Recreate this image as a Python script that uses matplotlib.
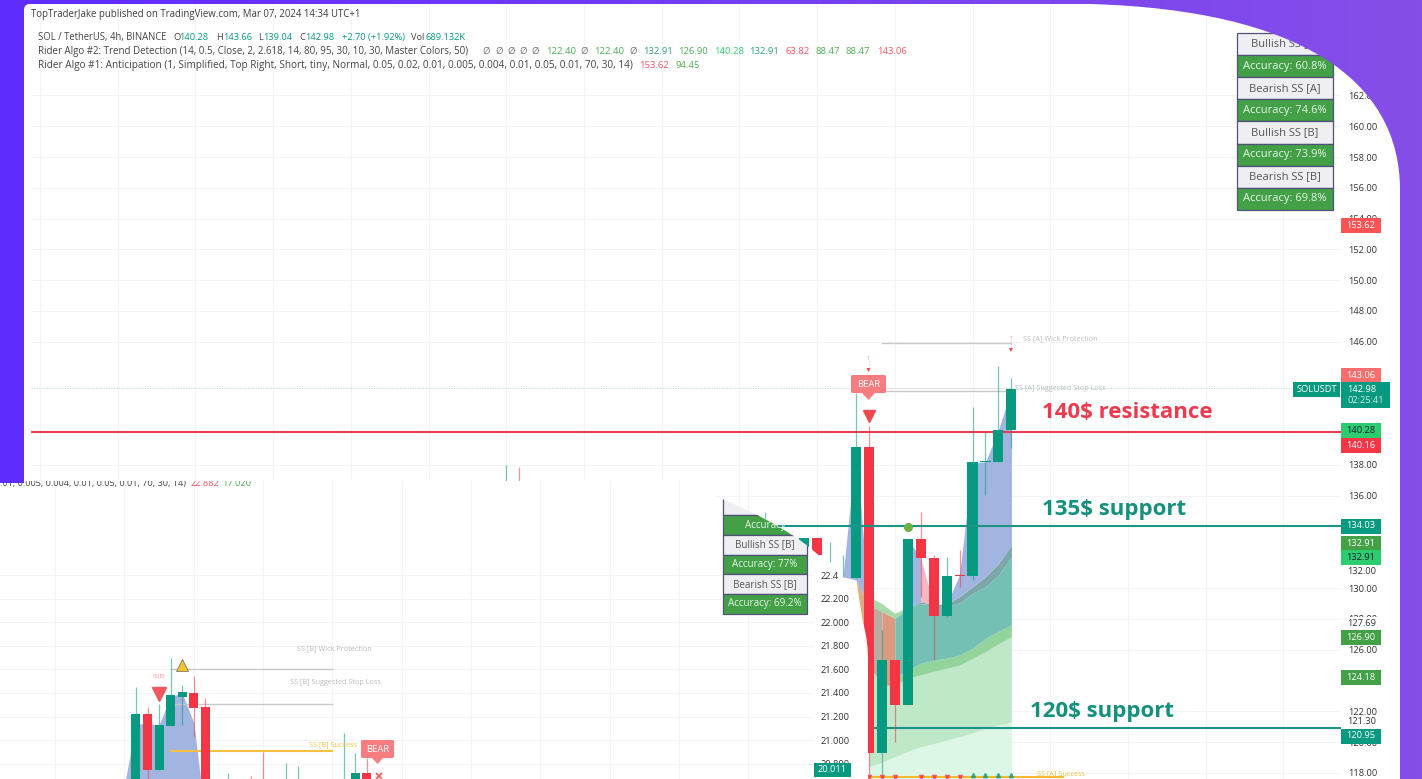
import numpy as np
import matplotlib
matplotlib.use("Agg")
import matplotlib.pyplot as plt
from matplotlib.path import Path
from matplotlib.patches import PathPatch, Rectangle, Polygon, FancyBboxPatch
from matplotlib.transforms import Bbox, TransformedBbox

plt.rcParams['font.family'] = ['Open Sans', 'DejaVu Sans']
W, H = 1422, 779
GREEN, RED = '#089981', '#f23645'
TAG_GREEN, TAG_LIME = '#43a047', '#2ecc71'

# ---------- main chart data (SOL / USDT, 4h) ----------
main_idx = [-27, -26, -7, -4, -3, -2, -1, 0, 1, 2, 3, 4, 5, 6, 7, 8, 9, 10, 11, 12]
main_o = [135.0, 136.7, 132.0, 131.9, 133.28, 132.5, 130.75, 130.68, 139.19, 119.28, 125.34, 122.42, 133.2, 131.94, 128.21, 130.86, 130.81, 138.17, 138.21, 140.27]
main_c = [136.0, 135.5, 133.0, 133.28, 132.16, 132.5, 130.75, 139.15, 119.28, 125.34, 122.42, 133.2, 131.94, 128.21, 130.81, 130.80, 138.17, 138.26, 140.27, 142.94]
main_h = [138.0, 137.9, 134.95, 133.28, 133.28, 133.0, 132.16, 142.66, 140.5, 127.3, 125.34, 133.2, 134.97, 132.16, 132.05, 132.48, 141.79, 140.16, 144.43, 143.66]
main_l = [135.0, 135.5, 132.0, 131.9, 132.16, 131.7, 130.73, 130.68, 117.6, 117.6, 120.03, 122.42, 129.45, 125.34, 128.15, 130.10, 130.53, 136.05, 138.17, 139.08]

resistance, support_135, support_120, last_price = 140.16, 134.03, 120.95, 142.98
wick_level, stop_level_a, stop_level_b, success_level = 145.92, 142.8, 143.0, 117.74

# trend ribbon, by bar
blue1_x, blue1_top, blue1_bot = [-1, 0, 1], [130.75, 139.15, 128.9], [130.75, 130.53, 128.9]
blue2_x, blue2_top, blue2_bot = [4, 5], [133.2, 131.94], [128.7, 129.12]
blue3_x = [7, 8, 9, 10, 11, 12]
blue3_top = [128.97, 130.86, 138.17, 138.2, 140.27, 142.9]
blue3_bot = [128.97, 129.45, 130.1, 130.75, 131.6, 132.8]
pink_x, pink_top, pink_bot = [5, 6, 7], [131.94, 128.9, 128.97], [129.12, 128.9, 128.97]
orange_x, orange_top, orange_bot = [2, 3], [128.48, 128.04], [123.7, 123.7]
tan_x, tan_top, tan_bot = [0, 1], [130.53, 128.9], [130.53, 125.0]
grey_x, grey_top, grey_bot = [1, 2], [128.9, 128.48], [125.0, 123.7]
lime_x, lime_top, lime_bot = [1, 2, 3, 4], [129.45, 129.0, 128.37, 128.8], [128.9, 128.48, 128.04, 128.6]
slate_x = [3, 4, 5, 6, 7, 8, 9, 10, 11, 12]
slate_top = [128.04, 128.7, 129.12, 128.95, 128.97, 129.45, 130.1, 130.75, 131.6, 132.8]
teal_top = [128.04, 128.7, 129.0, 128.9, 128.85, 129.05, 129.66, 130.1, 130.85, 132.05]
teal_bot = [124.15, 124.7, 125.12, 125.34, 125.45, 125.66, 126.1, 126.74, 127.2, 127.61]
green_bot = [123.7, 124.15, 124.37, 124.6, 124.8, 125.0, 125.45, 125.88, 126.4, 126.85]
light_x = [1, 2, 3, 4, 5, 6, 7, 8, 9, 10, 11, 12]
light_top = [125.0, 123.7, 123.7, 124.15, 124.37, 124.6, 124.8, 125.0, 125.45, 125.88, 126.4, 126.85]
light_bot = [118.4, 118.7, 119.05, 119.4, 119.7, 119.9, 120.14, 120.36, 120.6, 120.9, 121.1, 121.3]

main_ticks = [162, 160, 158, 156, 154, 152, 150, 148, 146, 138, 136, 130, 128, 126, 122, 120, 118]

# ---------- inset chart data ----------
inset_idx = [0, 1, 2, 3, 4, 5, 6, 8, 10, 11, 13, 14, 18, 19, 20]
inset_o = [20.5, 21.22, 20.75, 21.12, 21.37, 21.40, 21.28, 20.5, 20.6, 20.6, 20.5, 20.5, 20.5, 20.5, 20.72]
inset_c = [21.22, 20.75, 21.13, 21.38, 21.41, 21.27, 20.5, 20.6, 20.5, 20.5, 20.6, 20.6, 20.6, 20.72, 20.5]
inset_h = [21.45, 21.28, 21.31, 21.70, 21.47, 21.54, 21.36, 20.72, 20.70, 20.90, 20.81, 20.78, 21.06, 20.89, 20.85]
inset_l = [20.5, 20.5, 20.75, 21.12, 21.13, 21.03, 20.5, 20.5, 20.5, 20.5, 20.5, 20.5, 20.5, 20.5, 20.5]
inset_area_x = [-0.9, 0, 1, 2, 3, 4, 5, 5.6]
inset_area_top = [20.67, 21.14, 21.14, 21.13, 21.37, 21.40, 21.15, 20.67]
inset_wick, inset_stop, inset_success = 21.60, 21.31, 20.91
inset_ticks = [22.4, 22.2, 22.0, 21.8, 21.6, 21.4, 21.2, 21.0, 20.8]

fig = plt.figure(figsize=(W / 100, H / 100), dpi=100, facecolor='white')


def px_axes(z):
    a = fig.add_axes([0, 0, 1, 1], zorder=z)
    a.set_xlim(0, W); a.set_ylim(H, 0); a.axis('off'); a.patch.set_alpha(0)
    return a


def candles(ax, idx, o, h, l, c, width=0.78):
    for i, op, hi, lo, cl in zip(idx, o, h, l, c):
        col = GREEN if cl >= op else RED
        ax.vlines(i, lo, hi, color=col, lw=0.9, alpha=0.55, zorder=3)
        if cl != op:
            ax.bar(i, abs(cl - op), bottom=min(op, cl), width=width, color=col, zorder=4)


# ---------- main chart ----------
ax = fig.add_axes([31 / W, 0, (1341 - 31) / W, 1], zorder=1)
ax.patch.set_alpha(0)
ax.set_xlim(-63.7, 37.45)
ax.set_ylim(117.61, 168.195)
for s in ax.spines.values():
    s.set_visible(False)
ax.yaxis.tick_right()
ax.set_yticks(main_ticks)
ax.set_yticklabels([f'{t:.2f}' for t in main_ticks], fontsize=6.7, color='#333333')
ax.tick_params(axis='y', length=0, pad=5)
ax.set_xticks(np.arange(-63, 38, 6))
ax.tick_params(axis='x', length=0, labelbottom=False)
ax.grid(True, color='#f4f4f7', lw=0.8, zorder=0)
ax.set_axisbelow(True)

ax.fill_between(light_x, light_bot, 117.61, color='#dcf7e5', lw=0, zorder=1)
ax.fill_between(light_x, light_top, light_bot, color='#bfe8c8', lw=0, zorder=1)
ax.fill_between(slate_x, teal_bot, green_bot, color='#93d39c', lw=0, zorder=1)
ax.fill_between(slate_x, teal_top, teal_bot, color='#74c0b4', lw=0, zorder=1)
ax.fill_between(slate_x, slate_top, teal_top, color='#7ba7a8', lw=0, zorder=1)
ax.fill_between(lime_x, lime_top, lime_bot, color='#a6dcaa', lw=0, zorder=1)
ax.fill_between(orange_x, orange_top, orange_bot, color='#dc9a80', lw=0, zorder=1)
ax.fill_between(tan_x, tan_top, tan_bot, color='#dcae80', lw=0, zorder=1)
ax.fill_between(grey_x, grey_top, grey_bot, color='#b9aaa2', lw=0, zorder=1)
ax.fill_between(blue1_x, blue1_top, blue1_bot, color='#a2b4e0', lw=0, zorder=1)
ax.fill_between(blue2_x, blue2_top, blue2_bot, color='#a2b4e0', lw=0, zorder=1)
ax.fill_between(blue3_x, blue3_top, blue3_bot, color='#a2b4e0', lw=0, zorder=1)
ax.fill_between(pink_x, pink_top, pink_bot, color='#f6b8c0', lw=0, zorder=1)

ax.axhline(last_price, color='#a8ddd2', lw=0.7, ls=':', zorder=2)
ax.axhline(resistance, color='#ec3b4e', lw=1.5, zorder=2)
ax.axhline(support_135, color='#1a9485', lw=1.5, zorder=5)
ax.plot([1, 37.45], [support_120, support_120], color='#1a9485', lw=1.5, zorder=2)
ax.plot([2, 12], [wick_level, wick_level], color='#c8c8c8', lw=1, zorder=2)
ax.plot([2, 12], [stop_level_a, stop_level_a], color='#c8c8c8', lw=1, zorder=2)
ax.plot([0, 12], [stop_level_b, stop_level_b], color='#e2e2e2', lw=0.8, zorder=2)
ax.plot([1, 16], [success_level, success_level], color='#f7b731', lw=1.5, zorder=2)

candles(ax, main_idx, main_o, main_h, main_l, main_c)
ax.plot([4], [133.95], 'o', color='#6cb33f', ms=5.5, zorder=6)
ax.plot([1], [141.15], 'v', color='#f2474f', ms=9, zorder=6)
ax.plot([1, 2, 3, 5, 6, 7, 8], [117.72] * 7, 'v', color='#f2474f', ms=3, zorder=6, alpha=0.8)
ax.plot([9, 10, 11, 12], [117.85] * 4, '^', color=GREEN, ms=3, zorder=6, alpha=0.7)

# ---------- main text layer (hidden by the purple corner where it overlaps) ----------
tx = px_axes(1.5)


def px_box(a, x0, y0, x1, y1):
    return TransformedBbox(Bbox([[x0, y0], [x1, y1]]), a.transData)


def put(a, x, y, s, color='#444444', size=7.05, ha='left', weight='normal', box=None):
    t = a.text(x, y, s, color=color, fontsize=size, ha=ha, va='center', fontweight=weight, zorder=8)
    if box is not None:
        t.set_clip_box(px_box(a, *box)); t.set_clip_on(True)
    return t


put(tx, 31, 14.5, 'TopTraderJake published on TradingView.com, Mar 07, 2024 14:34 UTC+1', '#3c3c3c', 6.9)
put(tx, 38, 37, 'SOL / TetherUS, 4h, BINANCE', '#444444', 6.85)
row1 = [(173, 'O', '#444444'), (179, '140.28', GREEN),
        (216, 'H', '#444444'), (223, '143.66', GREEN), (258, 'L', '#444444'), (263, '139.04', GREEN),
        (299, 'C', '#444444'), (305, '142.98', GREEN), (342, '+2.70 (+1.92%)', GREEN),
        (411, 'Vol', '#444444'), (425, '689.132K', GREEN)]
for x, s, c in row1:
    put(tx, x, 37, s, c, 6.7)
put(tx, 38, 51, 'Rider Algo #2: Trend Detection (14, 0.5, Close, 2, 2.618, 14, 80, 95, 30, 10, 30, Master Colors, 50)')
row2 = [(482, 'Ø', '#777777'), (495, 'Ø', '#777777'), (507, 'Ø', '#777777'), (519, 'Ø', '#777777'), (531, 'Ø', '#777777'),
        (546, '122.40', '#4caf50'), (580, 'Ø', '#777777'), (594, '122.40', '#4caf50'), (629, 'Ø', '#777777'),
        (643, '132.91', '#2e9e7f'), (678, '126.90', '#4caf50'), (714, '140.28', '#2ecc71'), (749, '132.91', '#2e9e7f'),
        (785, '63.82', '#f0565f'), (816, '88.47', '#4caf50'), (846, '88.47', '#4caf50'), (877, '143.06', '#f0565f')]
for x, s, c in row2:
    put(tx, x, 51, s, c, 6.8)
put(tx, 38, 65, 'Rider Algo #1: Anticipation (1, Simplified, Top Right, Short, tiny, Normal, 0.05, 0.02, 0.01, 0.005, 0.004, 0.01, 0.05, 0.01, 70, 30, 14)', size=7.2)
put(tx, 639, 65, '153.62', '#f0565f', 6.8)
put(tx, 675, 65, '94.45', '#4caf50', 6.8)

put(tx, 1042, 412.5, '140$ resistance', '#ec3b4e', 16, weight='bold')
put(tx, 1042, 510, '135$ support', '#14907c', 16, weight='bold')
put(tx, 1030, 712, '120$ support', '#14907c', 16, weight='bold')

put(tx, 1023, 339, 'SS [A] Wick Protection', '#bbbbbb', 5.2)
put(tx, 1015, 388, 'SS [A] Suggested Stop Loss', '#bbbbbb', 5.2)
put(tx, 1037, 774, 'SS [A] Success', '#f0c040', 5.2)

# BEAR flag
tx.add_patch(FancyBboxPatch((851, 375), 35, 18, boxstyle='round,pad=0,rounding_size=1.5', fc='#f77c80', ec='none', zorder=4))
tx.add_patch(Polygon([[862, 393], [875, 393], [868.5, 400]], fc='#f77c80', ec='none', zorder=4))
put(tx, 868.5, 384, 'BEAR', 'white', 6.8, ha='center')
for x0, y0 in [(868.5, 355), (1011, 335)]:
    put(tx, x0, y0 + 3, 'T', '#f2a0a0', 3.8, ha='center')
    tx.vlines(x0, y0 + 6, y0 + 14, color='#f5b5b5', lw=0.7, linestyles=':')
    tx.add_patch(Polygon([[x0 - 2, y0 + 13], [x0 + 2, y0 + 13], [x0, y0 + 17]], fc='#f2474f', ec='none'))

# table, top right
rows_a = ['Bullish SS [A]', 'Accuracy: 60.8%', 'Bearish SS [A]', 'Accuracy: 74.6%',
          'Bullish SS [B]', 'Accuracy: 73.9%', 'Bearish SS [B]', 'Accuracy: 69.8%']


def table(a, rows, x0, x1, y0, h, size, clip=None):
    for k, s in enumerate(rows):
        acc = s.startswith('Accuracy')
        r = Rectangle((x0, y0 + k * h), x1 - x0, h, fc=TAG_GREEN if acc else '#eeeef3', ec='#50507a', lw=0.9, zorder=6)
        a.add_patch(r)
        if clip is not None:
            r.set_clip_path(clip)
        if s:
            put(a, (x0 + x1) / 2, y0 + (k + .5) * h, s, '#e8f5e9' if acc else '#555555', size, ha='center')


table(tx, rows_a, 1237, 1333, 33, 22.1, 8.0)

# ---------- inset white panel ----------
pb = px_axes(2)
panel_path = Path([(0, 481), (685, 481), (700, 490), (790, 525), (868, 570), (868, 660), (868, H), (0, H), (0, 481)],
                  [Path.MOVETO, Path.LINETO, Path.LINETO, Path.CURVE4, Path.CURVE4, Path.CURVE4, Path.LINETO, Path.LINETO, Path.CLOSEPOLY])
panel = PathPatch(panel_path, fc='white', ec='none')
pb.add_patch(panel)

ins = fig.add_axes([0, 0, 814 / W, (H - 481) / H], zorder=3)
ins.patch.set_alpha(0)
ins.set_xlim(-11.77, 58.7)
ins.set_ylim(20.671, 23.197)
for s in ins.spines.values():
    s.set_visible(False)
ins.yaxis.tick_right()
ins.set_yticks(inset_ticks)
ins.set_yticklabels([f'{t:.3f}' for t in inset_ticks], fontsize=6.7, color='#333333')
ins.tick_params(axis='y', length=0, pad=5)
top_label = ins.get_yticklabels()[0]
top_label.set_clip_box(px_box(pb, 0, 481, 838, H))
top_label.set_clip_on(True)
ins.set_xticks(np.arange(-7, 58, 6))
ins.tick_params(axis='x', length=0, labelbottom=False)
ins.grid(True, color='#f4f4f7', lw=0.8)
ins.set_axisbelow(True)
ins.fill_between(inset_area_x, inset_area_top, 20.67, color='#a2b4e0', lw=0, zorder=1)
ins.plot([3, 17], [inset_wick, inset_wick], color='#c8c8c8', lw=1, zorder=2)
ins.plot([3, 17], [inset_stop, inset_stop], color='#c8c8c8', lw=1, zorder=2)
ins.plot([3, 17], [inset_success, inset_success], color='#f7c040', lw=1.5, zorder=2)
candles(ins, inset_idx, inset_o, inset_h, inset_l, inset_c)
ins.plot([2], [21.395], 'v', color='#f2575c', ms=9.5, zorder=6)
ins.plot([4], [21.635], '^', color='#f2c230', mec='#666666', mew=0.5, ms=8, zorder=6)
ins.plot([21], [20.70], 'x', color='#f2575c', ms=4.5, mew=1.2, zorder=6)

pt = px_axes(3.5)
cut = (0, 481, W, H)
put(pt, 0, 483.5, '.01, 0.005, 0.004, 0.01, 0.05, 0.01, 70, 30, 14)', '#444444', 6.55, box=cut)
put(pt, 191, 483.5, '22.882', '#f0565f', 6.7, box=cut)
put(pt, 222, 483.5, '17.020', '#4caf50', 6.7, box=cut)
put(pt, 159, 676, 'SS[B]', '#f2a0a0', 3.8, ha='center')
put(pt, 297, 649, 'SS [B] Wick Protection', '#bbbbbb', 5.2)
put(pt, 290, 683, 'SS [B] Suggested Stop Loss', '#bbbbbb', 5.2)
put(pt, 309, 745, 'SS [B] Success', '#f0c040', 5.2)
pt.add_patch(FancyBboxPatch((361, 740), 33, 18, boxstyle='round,pad=0,rounding_size=1.5', fc='#f77c80', ec='none'))
pt.add_patch(Polygon([[372, 758], [383, 758], [377.5, 764]], fc='#f77c80', ec='none'))
put(pt, 377.5, 749, 'BEAR', 'white', 6.8, ha='center')

rows_b = ['', 'Accuracy', 'Bullish SS [B]', 'Accuracy: 77%', 'Bearish SS [B]', 'Accuracy: 69.2%']
table(pt, rows_b, 723, 807, 495.5, 19.7, 7.1, clip=panel)

# ---------- purple frame ----------
mk = px_axes(4)
frame_path = Path([(0, 0), (W, 0), (W, H), (1400, H), (1400, 190), (1400, 80), (1300, 10), (1090, 4), (30, 4), (24, 4), (24, 10), (24, 483), (0, 483), (0, 0)],
                  [Path.MOVETO, Path.LINETO, Path.LINETO, Path.LINETO, Path.LINETO, Path.CURVE4, Path.CURVE4, Path.CURVE4,
                   Path.LINETO, Path.CURVE3, Path.CURVE3, Path.LINETO, Path.LINETO, Path.CLOSEPOLY])
frame = PathPatch(frame_path, fc='none', ec='none')
mk.add_patch(frame)
c0, c1 = np.array([0x5e, 0x2c, 0xff]) / 255, np.array([0x86, 0x4e, 0xe8]) / 255
ramp = np.linspace(0, 1, 256)[None, :, None]
grad = c0[None, None, :] * (1 - ramp) + c1[None, None, :] * ramp
im = mk.imshow(grad, extent=[0, W, H, 0], aspect='auto', zorder=1)
im.set_clip_path(frame)
mk.set_xlim(0, W); mk.set_ylim(H, 0)

# ---------- price tags ----------
tg = px_axes(5)


def tag(y, s, fc, tc='white', x0=1341, x1=1381, h=15):
    tg.add_patch(Rectangle((x0, y - h / 2), x1 - x0, h, fc=fc, ec='none'))
    put(tg, (x0 + x1) / 2, y, s, tc, 6.7, ha='center')


tag(225.5, '153.62', '#ff5252')
tag(375, '143.06', '#f86e6e')
tg.add_patch(Rectangle((1341, 382), 49, 26, fc=GREEN, ec='none'))
put(tg, 1347, 389, '142.98', 'white', 6.7)
put(tg, 1347, 400.5, '02:25:41', '#c8ece4', 6.7)
tag(389, 'SOLUSDT', GREEN, x0=1293, x1=1340, h=15)
tag(430.5, '140.28', TAG_LIME, '#123')
tag(445, '140.16', RED)
tag(526, '134.03', GREEN)
tag(543.5, '132.91', TAG_GREEN)
tag(557, '132.91', TAG_LIME, '#123')
tag(637, '126.90', TAG_GREEN)
tag(677, '124.18', TAG_GREEN)
tag(736, '120.95', GREEN)
for y, s in [(572, '132.00'), (623, '127.69'), (721.5, '121.30')]:
    tg.add_patch(Rectangle((1345, y - 6), 34, 12, fc='white', ec='none'))
    put(tg, 1347, y, s, '#333333', 6.7)
tag(770, '20.011', GREEN, x0=814, x1=851, h=14)

fig.savefig('out.png', dpi=100, facecolor='white')
